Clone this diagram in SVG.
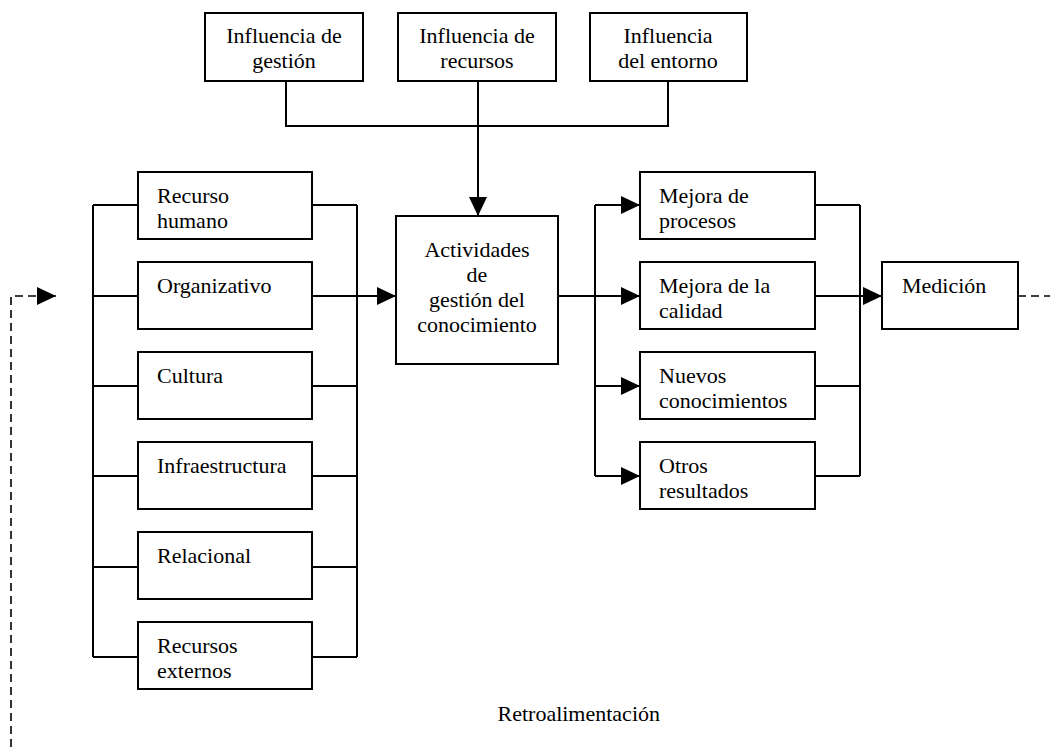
<svg xmlns="http://www.w3.org/2000/svg" width="1050" height="747" viewBox="0 0 1050 747">
<style>
.box{fill:#fff;stroke:#000;stroke-width:2}
.ln{fill:none;stroke:#000;stroke-width:2}
.dash{fill:none;stroke:#000;stroke-width:1.6;stroke-dasharray:8,5}
.c{text-anchor:middle}
</style>
<defs>
<marker id="ah" viewBox="0 0 19 18" refX="19" refY="9" markerWidth="19" markerHeight="18" markerUnits="userSpaceOnUse" orient="auto">
<path d="M0,0 L19,9 L0,18 z" fill="#000"/>
</marker>
</defs>
<rect width="1050" height="747" fill="#fff"/>
<g id="connectors">
<path class="ln" d="M286,81 V126 H668 V81"/>
<path class="ln" d="M478,81 V216" marker-end="url(#ah)"/>
<path class="ln" d="M93,205 V657 M357,205 V657"/>
<path class="ln" d="M93,205 H138 M312,205 H357"/>
<path class="ln" d="M93,296 H138"/>
<path class="ln" d="M312,296 H396" marker-end="url(#ah)"/>
<path class="ln" d="M93,386 H138 M312,386 H357"/>
<path class="ln" d="M93,476 H138 M312,476 H357"/>
<path class="ln" d="M93,567 H138 M312,567 H357"/>
<path class="ln" d="M93,657 H138 M312,657 H357"/>
<path class="ln" d="M558,296 H640" marker-end="url(#ah)"/>
<path class="ln" d="M595,205 V476"/>
<path class="ln" d="M595,205 H640" marker-end="url(#ah)"/>
<path class="ln" d="M595,386 H640" marker-end="url(#ah)"/>
<path class="ln" d="M595,476 H640" marker-end="url(#ah)"/>
<path class="ln" d="M860,205 V476"/>
<path class="ln" d="M815,205 H860 M815,386 H860 M815,476 H860"/>
<path class="ln" d="M815,296 H882" marker-end="url(#ah)"/>
<path class="dash" d="M1018,296 H1050"/>
<path class="dash" d="M11,747 V296 H56" marker-end="url(#ah)"/>
</g>
<g font-family="'Liberation Serif','Times New Roman',serif" font-size="22" fill="#000">
<g id="inf-gestion"><rect class="box" x="205" y="13" width="158" height="68"/><text class="c" x="284" y="43">Influencia de</text><text class="c" x="284" y="68">gestión</text></g>
<g id="inf-recursos"><rect class="box" x="398" y="13" width="158" height="68"/><text class="c" x="477" y="43">Influencia de</text><text class="c" x="477" y="68">recursos</text></g>
<g id="inf-entorno"><rect class="box" x="590" y="13" width="157" height="68"/><text class="c" x="668" y="43">Influencia</text><text class="c" x="668" y="68">del entorno</text></g>
<g id="recurso-humano"><rect class="box" x="138" y="172" width="174" height="67"/><text x="157" y="203">Recurso</text><text x="157" y="228">humano</text></g>
<g id="organizativo"><rect class="box" x="138" y="262" width="174" height="67"/><text x="157" y="293">Organizativo</text></g>
<g id="cultura"><rect class="box" x="138" y="352" width="174" height="67"/><text x="157" y="383">Cultura</text></g>
<g id="infraestructura"><rect class="box" x="138" y="442" width="174" height="67"/><text x="157" y="473">Infraestructura</text></g>
<g id="relacional"><rect class="box" x="138" y="532" width="174" height="67"/><text x="157" y="563">Relacional</text></g>
<g id="recursos-externos"><rect class="box" x="138" y="622" width="174" height="67"/><text x="157" y="653">Recursos</text><text x="157" y="678">externos</text></g>
<g id="actividades"><rect class="box" x="396" y="216" width="162" height="148"/><text class="c" x="477" y="257">Actividades</text><text class="c" x="477" y="282">de</text><text class="c" x="477" y="307">gestión del</text><text class="c" x="477" y="332">conocimiento</text></g>
<g id="mejora-procesos"><rect class="box" x="640" y="172" width="175" height="67"/><text x="659" y="203">Mejora de</text><text x="659" y="228">procesos</text></g>
<g id="mejora-calidad"><rect class="box" x="640" y="262" width="175" height="67"/><text x="659" y="293">Mejora de la</text><text x="659" y="318">calidad</text></g>
<g id="nuevos-conocimientos"><rect class="box" x="640" y="352" width="175" height="67"/><text x="659" y="383">Nuevos</text><text x="659" y="408">conocimientos</text></g>
<g id="otros-resultados"><rect class="box" x="640" y="442" width="175" height="67"/><text x="659" y="473">Otros</text><text x="659" y="498">resultados</text></g>
<g id="medicion"><rect class="box" x="882" y="262" width="136" height="67"/><text x="902" y="293">Medición</text></g>
<g id="retro"><text x="660" y="721" text-anchor="end">Retroalimentación</text></g>
</g>
</svg>
